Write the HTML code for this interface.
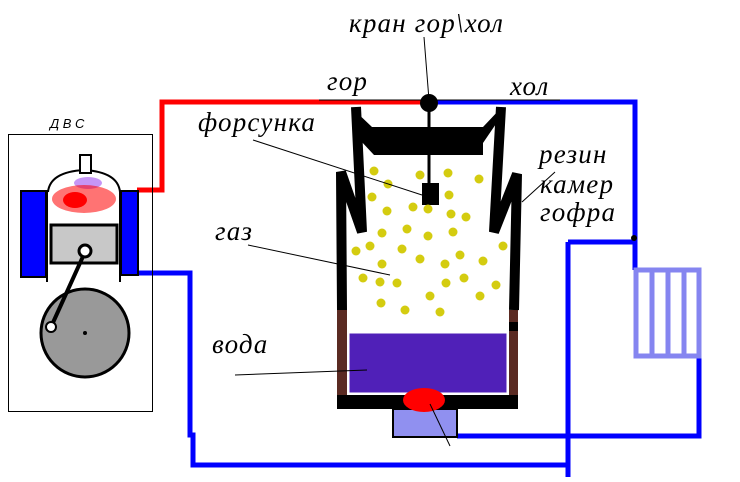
<!DOCTYPE html>
<html><head><meta charset="utf-8"><style>
body{margin:0;background:#fff;width:740px;height:477px;overflow:hidden}
text{font-family:"Liberation Serif",serif;font-style:italic}
</style></head><body>
<svg width="740" height="477" viewBox="0 0 740 477" xmlns="http://www.w3.org/2000/svg">
<!-- pipes -->
<polyline points="137,190 162,190 162,102 422,102" fill="none" stroke="#f00" stroke-width="5"/>
<polyline points="434,102 635,102 635,270" fill="none" stroke="#00f" stroke-width="5"/>
<polyline points="568,242 635,242" fill="none" stroke="#00f" stroke-width="5"/>
<polyline points="568,242 568,477" fill="none" stroke="#00f" stroke-width="5"/>
<polyline points="699,355 699,436 457,436" fill="none" stroke="#00f" stroke-width="5"/>
<polyline points="137,273 190,273 190,435 193,435 193,465 568,465" fill="none" stroke="#00f" stroke-width="5"/>
<circle cx="634" cy="238" r="3" fill="#000"/>
<!-- radiator -->
<g fill="none" stroke="#8585f0" stroke-width="5">
<rect x="636" y="270" width="63" height="86"/>
<line x1="652" y1="270" x2="652" y2="356"/><line x1="668" y1="270" x2="668" y2="356"/><line x1="684" y1="270" x2="684" y2="356"/>
</g>
<!-- DVS -->
<text x="50" y="128" font-size="13" style="font-family:'Liberation Sans',sans-serif">Д В С</text>
<rect x="8.5" y="134.5" width="144" height="277" fill="none" stroke="#000"/>
<rect x="21" y="191" width="25" height="86" fill="#00f" stroke="#000" stroke-width="2"/>
<rect x="121" y="191" width="17" height="84" fill="#00f" stroke="#000" stroke-width="2"/>
<line x1="47" y1="190" x2="47" y2="282" stroke="#000" stroke-width="2"/>
<line x1="120" y1="190" x2="120" y2="282" stroke="#000" stroke-width="2"/>
<path d="M48,192 Q50,172 84,170 Q118,172 120,192" fill="none" stroke="#000" stroke-width="2"/>
<rect x="80" y="155" width="11" height="18" fill="#fff" stroke="#000" stroke-width="2"/>
<ellipse cx="88" cy="183" rx="14" ry="6" fill="#a050f0" opacity="0.6"/>
<ellipse cx="84" cy="199" rx="32" ry="14" fill="#f00" opacity="0.55"/>
<ellipse cx="75" cy="200" rx="12" ry="8" fill="#f00"/>
<rect x="51" y="225" width="66" height="38" fill="#c8c8c8" stroke="#000" stroke-width="3"/>
<circle cx="85" cy="333" r="44" fill="#999" stroke="#000" stroke-width="3"/>
<circle cx="85" cy="333" r="2" fill="#000"/>
<line x1="85" y1="252" x2="51" y2="327" stroke="#000" stroke-width="4"/>
<circle cx="85" cy="251" r="6" fill="#fff" stroke="#000" stroke-width="3"/>
<circle cx="51" cy="327" r="5" fill="#fff" stroke="#000" stroke-width="2"/>
<!-- vessel -->
<rect x="337" y="310" width="10" height="98" fill="#5a2a22"/>
<rect x="509" y="310" width="9" height="98" fill="#5a2a22"/>
<rect x="509" y="322" width="9" height="9" fill="#000"/>
<rect x="337" y="395" width="181" height="14" fill="#000"/>
<rect x="349" y="333" width="158" height="60" fill="#5020b8" stroke="#fff" stroke-width="1"/>
<polyline points="356,107 362,232 341,172 342,310" fill="none" stroke="#000" stroke-width="10" stroke-linejoin="miter"/>
<polyline points="501,107 494,232 517,174 514,310" fill="none" stroke="#000" stroke-width="10" stroke-linejoin="miter"/>
<polygon points="352,108 372,127 483,127 501,108 500,118 483,143 483,155 374,155 360,140" fill="#000"/>
<line x1="424" y1="37" x2="429" y2="100" stroke="#000" stroke-width="1"/>
<line x1="429" y1="100" x2="429" y2="186" stroke="#000" stroke-width="3"/>
<circle cx="429" cy="103" r="9" fill="#000"/>
<rect x="422" y="183" width="17" height="22" fill="#000"/>
<g fill="#d4cc10">
<circle cx="374" cy="171" r="4.5"/><circle cx="388" cy="184" r="4.5"/><circle cx="420" cy="175" r="4.5"/><circle cx="448" cy="173" r="4.5"/><circle cx="479" cy="179" r="4.5"/>
<circle cx="372" cy="197" r="4.5"/><circle cx="449" cy="195" r="4.5"/><circle cx="387" cy="211" r="4.5"/><circle cx="413" cy="207" r="4.5"/><circle cx="428" cy="209" r="4.5"/>
<circle cx="451" cy="214" r="4.5"/><circle cx="466" cy="217" r="4.5"/><circle cx="382" cy="233" r="4.5"/><circle cx="407" cy="229" r="4.5"/><circle cx="428" cy="236" r="4.5"/>
<circle cx="453" cy="232" r="4.5"/><circle cx="370" cy="246" r="4.5"/><circle cx="356" cy="251" r="4.5"/><circle cx="402" cy="249" r="4.5"/><circle cx="503" cy="246" r="4.5"/>
<circle cx="382" cy="264" r="4.5"/><circle cx="420" cy="259" r="4.5"/><circle cx="445" cy="264" r="4.5"/><circle cx="460" cy="255" r="4.5"/><circle cx="483" cy="261" r="4.5"/>
<circle cx="363" cy="278" r="4.5"/><circle cx="380" cy="282" r="4.5"/><circle cx="397" cy="283" r="4.5"/><circle cx="446" cy="283" r="4.5"/><circle cx="464" cy="278" r="4.5"/>
<circle cx="496" cy="285" r="4.5"/><circle cx="430" cy="296" r="4.5"/><circle cx="480" cy="296" r="4.5"/><circle cx="381" cy="303" r="4.5"/><circle cx="405" cy="310" r="4.5"/><circle cx="440" cy="312" r="4.5"/>
</g>
<!-- burner -->
<rect x="393" y="409" width="64" height="28" fill="#9090f0" stroke="#000" stroke-width="2"/>
<ellipse cx="424" cy="400" rx="21" ry="12" fill="#f00"/>
<!-- leaders -->
<g stroke="#000" stroke-width="1">
<line x1="253" y1="140" x2="422" y2="195"/>
<line x1="248" y1="245" x2="390" y2="275"/>
<line x1="235" y1="375" x2="367" y2="370"/>
<line x1="555" y1="172" x2="522" y2="202"/>
<line x1="430" y1="404" x2="450" y2="446"/>
<line x1="319" y1="100" x2="560" y2="100"/>
</g>
<!-- labels -->
<g font-size="27" letter-spacing="1.2">
<text x="349" y="32">кран гор\хол</text>
<text x="327" y="90">гор</text>
<text x="510" y="95">хол</text>
<text x="198" y="131">форсунка</text>
<text x="539" y="163">резин</text>
<text x="540" y="193">камер</text>
<text x="540" y="221">гофра</text>
<text x="215" y="240">газ</text>
<text x="212" y="353">вода</text>
</g>
</svg>
</body></html>
